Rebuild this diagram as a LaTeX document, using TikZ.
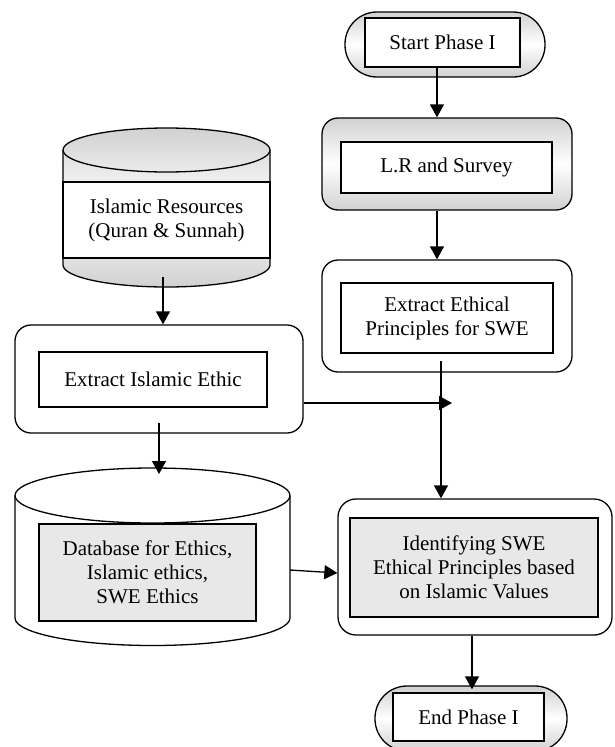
\documentclass[tikz,border=0pt]{standalone}
\usepackage{fontspec}
\setmainfont{Liberation Serif}
\usetikzlibrary{arrows.meta}
\begin{document}
\begin{tikzpicture}[x=1pt,y=1pt,
  every node/.style={font=\fontsize{21}{24}\selectfont, align=center},
  outerbox/.style={draw, line width=1.3pt, rounded corners=16pt, inner sep=0pt},
  shadebox/.style={top color=gray!36, bottom color=gray!36, middle color=white},
  innerbox/.style={draw, line width=1.7pt, fill=white, inner sep=0pt},
  greybox/.style={innerbox, fill=gray!18},
  ghost/.style={draw=none, inner sep=0pt, outer sep=0pt},
  arr/.style={line width=1.3pt, -{Triangle[width=14pt,length=13pt]}},
  cyl/.style={draw, line width=1.3pt}
]
\useasboundingbox (0,0) rectangle (614,-747);
\clip (0,0) rectangle (614,-747);

% Start
\node[outerbox, shadebox, rounded corners=32pt, minimum width=200pt, minimum height=65pt] (start) at (445,-44.5) {};
\node[innerbox, minimum width=155pt, minimum height=49pt] (startin) at (442.5,-42.5) {Start Phase I};

% L.R and Survey
\node[outerbox, shadebox, minimum width=250pt, minimum height=92pt] (lr) at (447,-164) {};
\node[innerbox, minimum width=211pt, minimum height=51pt] (lrin) at (446.5,-167.5) {L.R and Survey};

% Extract Ethical Principles
\node[outerbox, fill=white, minimum width=250pt, minimum height=112pt] (ee) at (447,-316) {};
\node[innerbox, minimum width=212pt, minimum height=70pt] (eein) at (447,-318) {Extract Ethical\\Principles for SWE};

% Islamic Resources cylinder
\node[ghost, minimum width=207pt, minimum height=159pt] (ircyl) at (166.5,-207.5) {};
\draw[cyl, shadebox] (63,-150) -- (63,-265) arc[start angle=180,end angle=360,x radius=103.5,y radius=22] -- (270,-150) arc[start angle=0,end angle=180,x radius=103.5,y radius=22] -- cycle;
\draw[cyl] (63,-150) arc[start angle=180,end angle=360,x radius=103.5,y radius=22];
\node[innerbox, line width=1.3pt, minimum width=207pt, minimum height=76pt] (ir) at (166.5,-220) {Islamic Resources\\(Quran \& Sunnah)};

% Extract Islamic Ethic
\node[outerbox, fill=white, minimum width=288pt, minimum height=108pt] (ei) at (159,-379) {};
\node[innerbox, minimum width=228pt, minimum height=55pt] (eiin) at (153,-379.5) {Extract Islamic Ethic};

% Database cylinder
\node[ghost, minimum width=275pt, minimum height=177pt] (dbcyl) at (152.5,-556.5) {};
\draw[cyl, fill=white] (15,-495.5) -- (15,-618) arc[start angle=180,end angle=360,x radius=137.5,y radius=27.5] -- (290,-495.5) arc[start angle=0,end angle=180,x radius=137.5,y radius=27.5] -- cycle;
\draw[cyl] (15,-495.5) arc[start angle=180,end angle=360,x radius=137.5,y radius=27.5];
\node[greybox, minimum width=217pt, minimum height=97pt] (db) at (147.5,-572.5) {Database for Ethics,\\Islamic ethics,\\SWE Ethics};

% Identifying
\node[outerbox, fill=white, rounded corners=18pt, minimum width=274pt, minimum height=136pt] (id) at (475,-567) {};
\node[greybox, minimum width=248pt, minimum height=99pt] (idin) at (474,-567.5) {Identifying SWE\\Ethical Principles based\\on Islamic Values};

% End
\node[outerbox, shadebox, rounded corners=32pt, minimum width=192pt, minimum height=65pt] (end) at (471,-718.5) {};
\node[innerbox, minimum width=151pt, minimum height=48pt] (endin) at (468.5,-717) {End Phase I};

% Connectors
\coordinate (hit) at (452,-403);
\draw[arr] ([xshift=-5.5pt]startin.south) -- ([xshift=-10pt]lr.north);
\draw[arr] ([xshift=-10pt]lr.south) -- ([xshift=-10pt]ee.north);
\draw[arr] ([xshift=-6pt,yshift=-7pt]eein.south) -- ([xshift=-34pt]id.north);
\draw[arr] ([xshift=-3.5pt,yshift=10pt]ircyl.south) -- ([xshift=4pt]ei.north);
\draw[arr] ([yshift=-24pt]ei.east) -- (hit);
\draw[arr] ([yshift=11pt]ei.south) -- ([xshift=6.5pt,yshift=-6pt]dbcyl.north);
\draw[arr] ([yshift=-13.5pt]dbcyl.east) -- ([yshift=-6pt]id.west);
\draw[arr] ([xshift=-3pt]id.south) -- ([xshift=1pt,yshift=-4pt]end.north);
\end{tikzpicture}
\end{document}
